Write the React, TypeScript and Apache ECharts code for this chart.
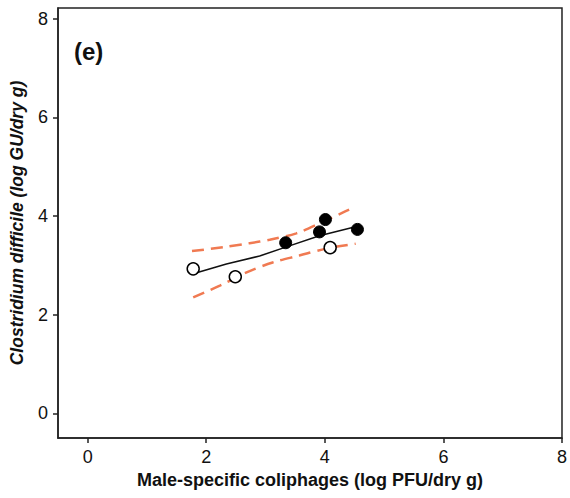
import React, { useEffect, useRef } from "react";
import * as echarts from "echarts";

const xTicks = [0, 2, 4, 6, 8];
const yTicks = [0, 2, 4, 6, 8];
const openPoints: [number, number][] = [
  [1.78, 2.93],
  [2.49, 2.77],
  [4.09, 3.36],
];
const filledPoints: [number, number][] = [
  [3.34, 3.46],
  [3.91, 3.68],
  [4.01, 3.93],
  [4.55, 3.73],
];
const fitLine: [number, number][] = [
  [1.78, 2.83],
  [2.34, 3.03],
  [2.9, 3.19],
  [3.34, 3.37],
  [3.91, 3.6],
  [4.5, 3.78],
];
const upperCI: [number, number][] = [
  [1.76, 3.29],
  [2.29, 3.37],
  [2.73, 3.45],
  [3.07, 3.52],
  [3.52, 3.65],
  [3.91, 3.85],
  [4.3, 4.07],
  [4.41, 4.13],
];
const lowerCI: [number, number][] = [
  [1.78, 2.35],
  [2.23, 2.59],
  [2.68, 2.86],
  [3.12, 3.06],
  [3.57, 3.2],
  [4.02, 3.34],
  [4.52, 3.44],
];

const FONT = "'Liberation Sans', Arial, Helvetica, sans-serif";
const CI_COLOR = "#f07a52";

export default function App() {
  const ref = useRef<HTMLDivElement>(null);
  useEffect(() => {
    if (!ref.current) return;
    const chart = echarts.init(ref.current, undefined, { renderer: "svg" });
    chart.setOption({
      animation: false,
      backgroundColor: "#ffffff",
      grid: {
        left: 58,
        right: 6,
        top: 8,
        bottom: 60,
        show: true,
        borderColor: "#222",
        borderWidth: 1.5,
        backgroundColor: "transparent",
      },
      xAxis: {
        type: "value",
        min: -0.5,
        max: 8,
        name: "Male-specific coliphages (log PFU/dry g)",
        nameLocation: "middle",
        nameGap: 32,
        nameTextStyle: { fontFamily: FONT, fontSize: 18, fontWeight: "bold", color: "#111" },
        splitLine: { show: false },
        axisLine: { show: true, onZero: false, lineStyle: { color: "#222", width: 1.5 } },
        axisTick: { show: true, length: 5, lineStyle: { color: "#222", width: 1.5 }, customValues: xTicks },
        axisLabel: { fontFamily: FONT, fontSize: 18, color: "#111", margin: 10, customValues: xTicks },
      },
      yAxis: {
        type: "value",
        min: -0.5,
        max: 8.22,
        name: "Clostridium difficile (log GU/dry g)",
        nameLocation: "middle",
        nameGap: 32,
        nameTextStyle: { fontFamily: FONT, fontSize: 17.5, fontWeight: "bold", fontStyle: "italic", color: "#111" },
        splitLine: { show: false },
        axisLine: { show: true, onZero: false, lineStyle: { color: "#222", width: 1.5 } },
        axisTick: { show: true, length: 5, lineStyle: { color: "#222", width: 1.5 }, customValues: yTicks },
        axisLabel: { fontFamily: FONT, fontSize: 18, color: "#111", margin: 10, customValues: yTicks },
      },
      graphic: [
        {
          type: "text",
          left: 74,
          top: 39,
          style: { text: "(e)", fontFamily: FONT, fontSize: 24, fontWeight: "bold", fill: "#111" },
        },
      ],
      series: [
        {
          type: "line",
          data: upperCI,
          showSymbol: false,
          symbol: "none",
          smooth: 0.3,
          lineStyle: { color: CI_COLOR, width: 2.5, type: [12, 7] },
          z: 2,
        },
        {
          type: "line",
          data: lowerCI,
          showSymbol: false,
          symbol: "none",
          smooth: 0.3,
          lineStyle: { color: CI_COLOR, width: 2.5, type: [12, 7] },
          z: 2,
        },
        {
          type: "line",
          data: fitLine,
          showSymbol: false,
          symbol: "none",
          lineStyle: { color: "#111", width: 1.5 },
          z: 3,
        },
        {
          type: "scatter",
          data: openPoints,
          symbol: "circle",
          symbolSize: 12,
          itemStyle: { color: "#ffffff", borderColor: "#000", borderWidth: 1.5, opacity: 1 },
          z: 4,
        },
        {
          type: "scatter",
          data: filledPoints,
          symbol: "circle",
          symbolSize: 12,
          itemStyle: { color: "#000", borderColor: "#000", borderWidth: 1, opacity: 1 },
          z: 4,
        },
      ],
    });
    return () => chart.dispose();
  }, []);
  return (
    <div
      ref={ref}
      style={{ position: "fixed", left: 0, top: 0, width: 570, height: 498 }}
    />
  );
}
